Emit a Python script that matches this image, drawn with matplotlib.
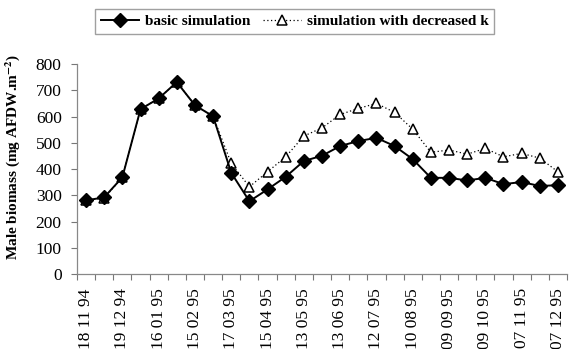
"""
male biomass: basic simulation vs simulation with decreased k
"""
import numpy as np
import matplotlib
matplotlib.use('Agg')
import matplotlib.pyplot as plt

plt.rcParams['font.family'] = ['Liberation Serif', 'DejaVu Serif']
plt.rcParams['mathtext.fontset'] = 'stix'

# подписи дат (каждая вторая точка)
date_labels = ['18 11 94', '19 12 94', '16 01 95', '15 02 95', '17 03 95',
               '15 04 95', '13 05 95', '13 06 95', '12 07 95', '10 08 95',
               '09 09 95', '09 10 95', '07 11 95', '07 12 95']

basic = [281, 293, 369, 628, 669, 731, 643, 601, 386, 278, 323, 371, 431, 451,
         488, 507, 519, 488, 438, 367, 367, 357, 367, 343, 351, 336, 339]
decreased_k = [281, 290, 369, 628, 669, 731, 643, 601, 422, 333, 390, 447, 526,
               557, 608, 631, 650, 616, 552, 464, 473, 457, 479, 447, 460, 442, 390]

y_ticks = list(range(0, 801, 100))

x = np.arange(len(basic))

fig = plt.figure(figsize=(5.69, 3.49), dpi=100)
ax = fig.add_axes([0.1353, 0.214, 0.8612, 0.6026])

l2, = ax.plot(x, decreased_k, linestyle=(0, (1, 2)), color='black', linewidth=0.9,
              marker='^', markersize=7.5, markerfacecolor='white',
              markeredgecolor='black', markeredgewidth=1.1, zorder=2)
l1, = ax.plot(x, basic, linestyle='-', color='black', linewidth=1.4,
              marker='D', markersize=6.7, markerfacecolor='black',
              markeredgecolor='black', zorder=3)

ax.set_xlim(-0.5, len(basic) - 0.5)
ax.set_ylim(0, 800)
ax.set_yticks(y_ticks)
ax.set_xticks(x[::2])
ax.set_xticklabels(date_labels, rotation=90, fontsize=12.5)
ax.set_xticks(np.arange(-0.5, len(basic)), minor=True)
ax.tick_params(axis='x', which='major', length=0, pad=10)
ax.tick_params(axis='x', which='minor', length=4, color='#777777', width=0.8)
ax.tick_params(axis='y', length=4, color='#777777', width=0.8, labelsize=12.5, pad=7)

for side in ['top', 'right']:
    ax.spines[side].set_visible(False)
for side in ['left', 'bottom']:
    ax.spines[side].set_color('#888888')
    ax.spines[side].set_linewidth(0.9)

ax.set_ylabel(r'Male biomass (mg AFDW.m$^{\mathbf{-2}}$)', fontsize=11,
              fontweight='bold')
ax.yaxis.set_label_coords(-0.113, 0.56)

fig.legend([l1, l2], ['basic simulation', 'simulation with decreased k'],
           loc='upper center', bbox_to_anchor=(0.518, 0.995), ncol=2,
           prop={'weight': 'bold', 'size': 11}, frameon=True, fancybox=False,
           edgecolor='#888888', handlelength=2.5, columnspacing=0.8,
           handletextpad=0.4, borderpad=0.35)

plt.savefig('out.png', dpi=100)
